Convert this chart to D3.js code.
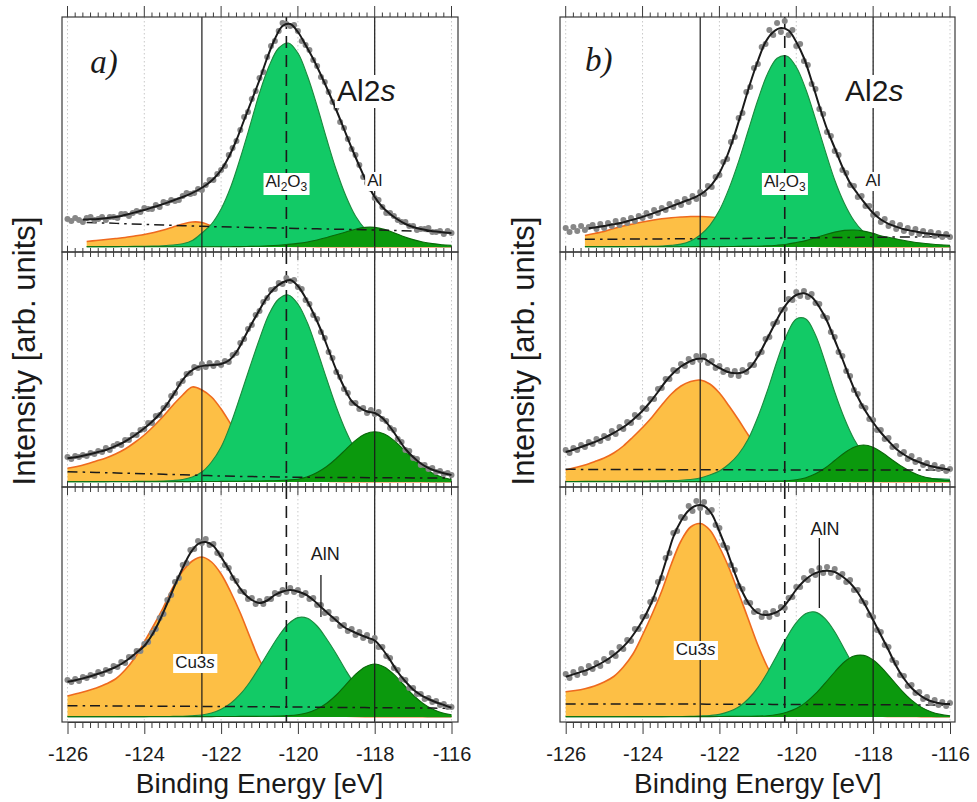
<!DOCTYPE html>
<html>
<head>
<meta charset="utf-8">
<title>Al2s XPS spectra</title>
<script src="https://cdn.jsdelivr.net/npm/d3@7/dist/d3.min.js"></script>
<style>
  html, body { margin: 0; padding: 0; background: #fff; }
  svg { display: block; font-family: "Liberation Sans", Arial, sans-serif; }
</style>
</head>
<body>
<svg id="chart" width="977" height="802"></svg>
<script>
// ---------------- data ----------------
// binding energy axis (eV)
const energyDomain = [-126, -116];
const energyTicks = [-126, -124, -122, -120, -118, -116];

// sampling of the stored series (eV)
const dotStart = -126, dotStep = 0.1;   // measured points
const fitStep = 0.2;                     // fit envelope
const compStep = 0.25;                   // fitted components
const bgStep = 0.5;                      // Shirley-type background

// first energy of fitted curves, rows top -> bottom
const fitStartA = [-125.6, -126, -126];
const fitStartB = [-125.4, -126, -126];
const compStartA = [-125.5, -126, -126];
const compStartB = [-125.5, -126, -126];

// reference energies (eV)
const refSolid = [-122.5, -118];
const refDashed = [-120.3];
const alnEnergy = -119.4;

// ---- column a) ----
const dotsA1 = [28,26,29,27,25,29,30,27,28,30,27,30,30,29,33,33,31,34,36,35,39,38,38,42,40,45,44,47,46,47,51,54,53,54,58,57,62,67,67,73,77,81,92,99,106,117,130,135,148,156,169,175,190,201,206,216,224,223,221,222,216,206,202,197,187,181,170,165,155,145,139,125,119,108,98,92,82,70,64,58,49,47,40,34,34,31,27,25,25,21,21,17,18,18,19,15,15,16,13,16,14];
const fitA1 = [27.4,27.7,28.1,28.7,29.7,31.1,33,35,37,39.4,41.8,44.4,47.2,50,53.2,57,61.8,68,77,90,107,127,147,167,189,208,221,223,215,202,188,172,155,137,118,99,81,64,50,40,33,27.5,23,20,18,16.6,15.4,14.5,14];
const cuA1 = [5.5,6.5,7.5,8.5,9.5,11,12.5,14.5,17,20,23,25,24.5,21,16,11,7,4.3,2.7,1.7,1.1,0.8,0.6,0.5,0.4,0.4,0.4,0.4,0.3,0.3,0.3,0.3,0.3,0.3,0.3,0.3,0.3,0.3,0.3];
const greenA1 = [0.3,0.3,0.4,0.4,0.5,0.6,0.7,0.9,1.3,2,3.2,6.4,14,23,38,60,89,121,154,181,199,204,194,171,141,108,77,51,31,18,9.6,4.8,2.4,1.3,0.8,0.6,0.5,0.4,0.4];
const alA1 = [0.2,0.2,0.2,0.2,0.2,0.2,0.2,0.2,0.2,0.2,0.2,0.2,0.2,0.2,0.2,0.3,0.4,0.6,0.8,1.2,1.8,2.6,3.6,5,7,9.5,12.2,15,17.8,19.6,19.6,17.6,14.3,10.6,7.4,5,3.4,2.3,1.6];
const bgA1 = [24.5,24,23.3,22.6,22,21.3,20.7,20.2,19.8,19.4,19,18.6,18.2,17.8,17.4,17,16.5,16,15.5,15];

const dotsA2 = [25,23,26,25,27,26,29,28,31,30,34,32,36,38,37,42,42,47,47,52,53,59,59,66,67,74,77,86,89,98,101,108,109,115,114,118,115,119,116,119,117,121,120,127,129,139,143,153,157,167,171,180,184,192,193,199,198,204,201,202,195,193,182,178,167,163,150,144,130,124,110,105,93,89,79,79,73,74,69,72,68,70,63,61,54,52,43,40,32,31,24,23,17,17,13,14,10,11,8,9,7];
const fitA2 = [23.7,24.7,26.2,28,30,32,35.2,38.5,42.8,48,53.7,60.3,68,78,90,102,110.5,115,116.5,117,118,121.5,130,144,158.5,172,185,194,199.5,202,196,184,169,152,132,112,95,81,74.5,70.5,69,64,55,44,33,25,18.5,14,11,8.8,7];
const cuA2 = [13.7,15.5,18,21,24,28,33,39.5,47,56,66,77,87,95,92,85,73,58,43,29,18,10.5,6,3.5,2,1.3,0.9,0.7,0.5,0.4,0.4,0.4,0.3,0.3,0.3,0.3,0.3,0.3,0.3,0.3,0.3];
const greenA2 = [0.3,0.3,0.3,0.4,0.4,0.5,0.5,0.6,0.7,0.8,1,1.5,2.5,5,10,20,35,58,86,115,143,168,183,187,178,159,132,103,75,51,32,19,10.5,5.4,2.6,1.3,0.7,0.5,0.4,0.4,0.3];
const alA2 = [0.2,0.2,0.2,0.2,0.2,0.2,0.2,0.2,0.3,0.3,0.3,0.3,0.4,0.4,0.5,0.5,0.6,0.7,0.8,0.9,1,1.2,1.5,2,2.8,5.2,9.5,15.5,23.5,32.7,41.6,48,50.3,48,41.6,32.7,23.5,15.3,9.1,4.9,2.4];
const bgA2 = [10.3,9.8,9.3,8.8,8.3,7.7,7.2,6.6,6,5.6,5.3,5,4.8,4.6,4.5,4.4,4.3,4.2,4.1,4,4];

const dotsA3 = [37,35,38,36,40,39,42,41,45,43,47,46,51,50,55,54,60,60,66,66,73,75,84,88,99,103,117,122,135,139,152,154,167,168,176,174,178,172,173,164,162,152,149,139,136,126,125,118,119,113,116,113,118,118,124,123,127,125,129,125,127,122,124,118,119,112,112,104,105,98,98,91,92,86,88,82,85,79,82,76,79,70,70,61,59,49,47,38,37,29,29,23,23,18,19,15,16,12,13,10,10];
const fitA3 = [35.3,36.8,38.6,40.7,43.2,45.9,49,53,58.3,64.5,71,82,96.5,114,132,149,164,173,175,171,160,147.5,134,123.5,117,114,116.5,122,125.5,127,125.5,122.5,117,110,103,96.5,90,86,82.5,79.5,76.5,68,57,45,35.5,27.5,22,18,14.8,12,9.3];
const cuA3 = [21,23.5,26,29,33,38,47,59,75,92,110,130,146,156,160,155,143,125,104,80,57,41,28,18,11,6.2,3.4,1.9,1.1,0.7,0.5,0.4,0.4,0.4,0.3,0.3,0.3,0.3,0.3,0.3,0.3];
const greenA3 = [0.3,0.3,0.3,0.3,0.3,0.3,0.4,0.4,0.4,0.5,0.5,0.6,0.7,1.2,2,4,7.8,13.8,22.8,35,50,66,81,93,99.4,98.7,91,78,63,46.5,32,21,12.4,7,3.6,1.8,0.9,0.5,0.3,0.3,0.3];
const alA3 = [0.2,0.2,0.2,0.2,0.2,0.2,0.2,0.2,0.3,0.3,0.3,0.3,0.3,0.4,0.4,0.4,0.5,0.5,0.6,0.6,0.7,0.8,1,1.4,2.3,4.2,8,13.8,22,32.5,42.6,50,53,50,42.6,32.5,22,13.8,8,4.2,2.2];
const bgA3 = [11.3,11.2,11.1,11,10.9,10.8,10.7,10.6,10.5,10.4,10.2,10.1,10,9.8,9.6,9.5,9.3,9.2,9,8.9,8.7];

// ---- column b) ----
const dotsB1 = [19,15,20,16,21,17,20,22,18,23,19,24,21,26,22,27,24,29,26,31,29,34,31,37,34,39,37,43,40,45,42,48,45,51,48,55,53,61,60,70,72,85,88,105,110,129,134,155,160,179,183,200,203,217,212,224,215,226,212,217,201,203,186,182,163,158,138,133,115,111,96,92,77,74,62,61,50,51,41,41,32,33,25,28,21,24,18,22,16,19,14,18,13,16,12,15,11,14,10,13,10];
const fitB1 = [18.8,19.8,21,22.4,23.7,25.7,27.9,30.1,32.6,35.4,38.4,41.4,44.3,47.2,50.4,55,62.3,74,91,113,138,163.5,186,205,215,219,216.5,205,189,166,141,118,99,80,64,53,43,34,27.5,23.2,20.3,17.8,16.2,14.7,13.5,12.6,11.8,11.1];
const cuB1 = [11.5,13.5,15.5,18.5,21,23,25,26.8,28.2,29.3,30,30.5,30.5,30,28.7,26,22,17,12,8,5,3,2,1.3,0.9,0.6,0.5,0.4,0.4,0.4,0.3,0.3,0.3,0.3,0.3,0.3,0.3,0.3,0.3];
const greenB1 = [0.3,0.3,0.3,0.4,0.4,0.5,0.6,0.7,1,1.6,2.9,6,12,21.7,36.7,58.6,85.6,116.5,147,173,188.7,191,180,157.5,128,96.6,67,43.8,26.5,15,7.8,3.8,1.7,0.9,0.6,0.5,0.4,0.3,0.3];
const alB1 = [0.2,0.2,0.2,0.2,0.2,0.2,0.2,0.2,0.3,0.3,0.3,0.3,0.4,0.4,0.4,0.5,0.6,0.7,0.8,1.1,1.8,2.8,4.5,6.4,9.3,12.3,14.9,16.6,17,15.9,13.6,10.8,9,7,5.3,4,3,2.2,1.6];
const bgB1 = [7.7,7.8,7.9,8,8.1,8.2,8.3,8.4,8.6,8.7,8.9,9,9.2,9.4,9.6,9.7,9.9,10,10.2,10.3];

const dotsB2 = [32,29,34,32,37,35,40,38,43,41,46,44,51,48,55,53,60,59,67,65,74,73,83,83,93,94,103,103,112,111,118,116,123,120,126,122,126,119,121,114,116,110,112,107,111,106,112,110,117,117,128,130,143,145,158,160,172,173,183,182,190,186,191,185,188,179,178,166,164,150,145,130,126,111,106,92,88,76,74,63,62,52,52,43,44,35,36,28,30,23,26,20,22,17,19,14,17,13,15,11,13];
const fitB2 = [30,32.3,35,37.8,40.7,44.2,48,52.5,57.5,64,71.3,80,90,100.5,109,115.5,120,123,123.2,118.5,114,110.3,108.8,109.5,114.5,125.5,140,155,169.5,180.5,187,188.7,185,175,161,142,123,103,85,71,59.5,49.5,41,33,27.5,23,19.8,17,15,13.4,12];
const cuB2 = [12,14.5,17,20.3,24,29,36,45,54.5,65,77,88,96,100.5,102,98,89,76,62,47,34,23,15,9.5,5.8,3.5,2.2,1.4,1,0.8,0.6,0.5,0.5,0.4,0.4,0.4,0.3,0.3,0.3,0.3,0.3];
const greenB2 = [0.5,0.5,0.6,0.6,0.7,0.7,0.8,0.9,1,1.1,1.3,1.5,1.8,2.5,4,7,11,18,28,43,65,91.5,121,147,163,163,147,120,90,64,43,28,18,12,8.4,6.2,5,4.2,3.6,3.1,2.7];
const alB2 = [0.2,0.2,0.2,0.2,0.2,0.2,0.2,0.2,0.3,0.3,0.3,0.3,0.3,0.4,0.4,0.4,0.5,0.5,0.5,0.6,0.6,0.7,0.9,1.3,2.3,4.3,8.2,14,21.5,29,34.8,37,34.8,29,22,15.5,10,6,3.6,2.2,1.4];
const bgB2 = [12.7,12.6,12.6,12.5,12.5,12.4,12.3,12.3,12.2,12.2,12.1,12.1,12,12,12,12,12,12,12,12,12];

const dotsB3 = [43,39,45,42,48,44,51,48,54,51,58,56,64,61,70,68,77,76,88,88,100,101,115,118,135,139,159,164,184,186,200,199,211,206,216,209,215,205,207,192,189,172,169,152,147,131,128,115,114,105,106,100,104,100,106,103,110,109,119,120,130,130,139,137,146,142,149,144,150,144,148,140,143,135,137,127,127,116,114,102,100,87,85,72,70,57,54,42,41,31,32,24,25,18,20,14,17,12,15,11,14];
const fitB3 = [40.3,42.6,45.1,47.8,51.3,55.5,60.5,66.8,74.3,84.5,96.5,111.5,131,155,180,196,206.5,211.5,211,203,185.5,166,144,125,111.5,104,102,103.5,107.5,116.5,127.5,136,142,145.3,146.3,145,140.5,134,124.5,111.5,97,82,67,51,38.5,29,22.3,17.5,14.7,13.3,13];
const cuB3 = [25.3,26.5,28.3,31,35,40.5,50,63,82,103,126,153,176,190,193.5,187,170,149,124,98,72,50,33,21,13,8,5,3.2,2.2,1.6,1.2,1,0.8,0.7,0.6,0.5,0.5,0.4,0.4,0.3,0.3];
const greenB3 = [0.3,0.3,0.3,0.3,0.3,0.3,0.3,0.4,0.4,0.4,0.4,0.5,0.5,0.6,1,1.5,2.6,5.4,10,18,29.4,44.5,62,79.4,94.3,103.4,104.9,98.3,85.2,68,50.5,34.5,21.7,12.6,6.8,3.4,1.6,0.8,0.5,0.3,0.3];
const alB3 = [0.2,0.2,0.2,0.2,0.2,0.2,0.2,0.2,0.3,0.3,0.3,0.3,0.3,0.4,0.4,0.4,0.5,0.6,0.7,0.8,0.9,1.3,2.5,4.7,8.4,14.6,23.3,33.9,45,55,60.9,61.6,57,48.2,37.2,26.2,16.9,9.9,5.3,2.6,1.2];
const bgB3 = [13,13,13,13,12.9,12.9,12.9,12.9,12.8,12.8,12.7,12.6,12.5,12.5,12.4,12.3,12.2,12.2,12.1,12.1,12];

// ---------------- layout ----------------
const panelTops = [17, 252, 487];
const panelHeight = 235;
const bottomY = panelTops[2] + panelHeight;

const COLORS = {
  cuFill: '#fdbf45', cuLine: '#ee6a1e',
  oxFill: '#12ca66', oxLine: '#1b8a3e',
  alFill: '#0b990d', alLine: '#0a680a',
  dots: '#878787', fit: '#1a1a1a', ink: '#1a1a1a', frame: '#3a3a3a', grid: '#c9c9c9'
};

const columns = [
  {
    letter: 'a)', range: [67.5, 451.5], frame: [62, 458], yLabelX: 35,
    al2sE: -118.98, cuE: -122.68, cuV: 49, alnLabelE: -119.29, alnLabelV: 157, alnTop: 142, alnBottom: 100,
    rows: [0, 1, 2].map(i => ({
      dots: [dotsA1, dotsA2, dotsA3][i], fit: [fitA1, fitA2, fitA3][i],
      cu: [cuA1, cuA2, cuA3][i], green: [greenA1, greenA2, greenA3][i], al: [alA1, alA2, alA3][i],
      bg: [bgA1, bgA2, bgA3][i], fitStart: fitStartA[i], compStart: compStartA[i]
    }))
  },
  {
    letter: 'b)', range: [565.7, 950], frame: [560, 955], yLabelX: 534,
    al2sE: -118.73, cuE: -122.62, cuV: 62, alnLabelE: -119.25, alnLabelV: 182, alnTop: 179, alnBottom: 109,
    rows: [0, 1, 2].map(i => ({
      dots: [dotsB1, dotsB2, dotsB3][i], fit: [fitB1, fitB2, fitB3][i],
      cu: [cuB1, cuB2, cuB3][i], green: [greenB1, greenB2, greenB3][i], al: [alB1, alB2, alB3][i],
      bg: [bgB1, bgB2, bgB3][i], fitStart: fitStartB[i], compStart: compStartB[i]
    }))
  }
];

const seq = (start, step, vals) => vals.map((v, i) => ({ e: start + i * step, v }));
const minorTicks = d3.range(51).map(i => ({ e: -126 + i * 0.2, major: i % 10 === 0 }));
const curve = d3.curveCatmullRom.alpha(0.5);
const svg = d3.select('#chart');

// text with a white box behind it
function boxedText(g, xPos, yBase, size, build, anchor = 'middle') {
  const t = g.append('text').attr('x', xPos).attr('y', yBase)
    .attr('text-anchor', anchor).attr('font-size', size).attr('fill', COLORS.ink);
  build(t);
  const b = t.node().getBBox();
  g.insert('rect', () => t.node())
    .attr('x', b.x - 2).attr('y', b.y + 1).attr('width', b.width + 4).attr('height', b.height)
    .attr('fill', '#fff');
  return t;
}

columns.forEach((col, ci) => {
  const x = d3.scaleLinear().domain(energyDomain).range(col.range);
  const cg = svg.append('g');

  col.rows.forEach((p, ri) => {
    const top = panelTops[ri];
    const bottom = top + panelHeight;
    const y = d3.scaleLinear().domain([-5, 230]).range([bottom, top]);
    const g = cg.append('g');
    const clipId = `clip-${ci}-${ri}`;
    g.append('clipPath').attr('id', clipId).append('rect')
      .attr('x', col.frame[0]).attr('y', top)
      .attr('width', col.frame[1] - col.frame[0]).attr('height', panelHeight);
    const body = g.append('g').attr('clip-path', `url(#${clipId})`);

    // dotted vertical grid
    body.selectAll('line.grid').data(energyTicks).join('line')
      .attr('class', 'grid')
      .attr('x1', d => x(d)).attr('x2', d => x(d)).attr('y1', top).attr('y2', bottom)
      .attr('stroke', COLORS.grid).attr('stroke-width', 1).attr('stroke-dasharray', '1.5,2.5');

    const area = d3.area().x(d => x(d.e)).y0(y(0)).y1(d => y(d.v)).curve(curve);
    const line = d3.line().x(d => x(d.e)).y(d => y(d.v)).curve(curve);

    const comps = [
      { vals: p.cu, fill: COLORS.cuFill, stroke: COLORS.cuLine, sw: 1.6 },
      { vals: p.green, fill: COLORS.oxFill, stroke: COLORS.oxLine, sw: 1.1 },
      { vals: p.al, fill: COLORS.alFill, stroke: COLORS.alLine, sw: 1.1 }
    ];
    comps.forEach(c => {
      const data = seq(p.compStart, compStep, c.vals);
      body.append('path').datum(data).attr('d', area).attr('fill', c.fill);
      body.append('path').datum(data).attr('d', line)
        .attr('fill', 'none').attr('stroke', c.stroke).attr('stroke-width', c.sw);
    });

    // background
    body.append('path').datum(seq(p.compStart, bgStep, p.bg))
      .attr('d', d3.line().x(d => x(d.e)).y(d => y(d.v)).curve(curve))
      .attr('fill', 'none').attr('stroke', COLORS.ink).attr('stroke-width', 1.5)
      .attr('stroke-dasharray', '10,5,2.5,5');

    // reference energies
    body.selectAll('line.ref').data(refSolid).join('line')
      .attr('class', 'ref')
      .attr('x1', d => x(d)).attr('x2', d => x(d)).attr('y1', top).attr('y2', bottom)
      .attr('stroke', COLORS.ink).attr('stroke-width', 1.2);
    body.selectAll('line.refd').data(refDashed).join('line')
      .attr('class', 'refd')
      .attr('x1', d => x(d)).attr('x2', d => x(d)).attr('y1', top).attr('y2', bottom)
      .attr('stroke', COLORS.ink).attr('stroke-width', 1.6).attr('stroke-dasharray', '12,7');

    // measured points
    body.selectAll('circle').data(seq(dotStart, dotStep, p.dots)).join('circle')
      .attr('cx', d => x(d.e)).attr('cy', d => y(d.v)).attr('r', 3)
      .attr('fill', COLORS.dots);

    // fit envelope
    body.append('path').datum(seq(p.fitStart, fitStep, p.fit)).attr('d', line)
      .attr('fill', 'none').attr('stroke', COLORS.fit).attr('stroke-width', 2);

    // labels
    if (ri === 0) {
      boxedText(body, x(-120.3), y(60), 17, t => {
        t.append('tspan').text('Al');
        t.append('tspan').attr('font-size', 12).attr('dy', 4).text('2');
        t.append('tspan').attr('dy', -4).text('O');
        t.append('tspan').attr('font-size', 12).attr('dy', 4).text('3');
      });
      boxedText(body, x(-118), y(61), 17, t => t.text('Al'));
      boxedText(body, x(col.al2sE), y(146), 30, t => {
        t.append('tspan').text('Al2');
        t.append('tspan').attr('font-style', 'italic').text('s');
      }, 'start');
      body.append('text').attr('x', x(ci === 0 ? -125.41 : -125.5)).attr('y', y(ci === 0 ? 174 : 176))
        .attr('font-family', '"Liberation Serif", "Times New Roman", serif')
        .attr('font-style', 'italic').attr('font-size', 33).attr('fill', COLORS.ink)
        .text(col.letter);
    }
    if (ri === 2) {
      body.append('line')
        .attr('x1', x(alnEnergy)).attr('x2', x(alnEnergy))
        .attr('y1', y(col.alnTop)).attr('y2', y(col.alnBottom))
        .attr('stroke', COLORS.ink).attr('stroke-width', 1.3);
      body.append('text').attr('x', x(col.alnLabelE)).attr('y', y(col.alnLabelV))
        .attr('text-anchor', 'middle').attr('font-size', 18).attr('fill', COLORS.ink).text('AlN');
      boxedText(body, x(col.cuE), y(col.cuV), 17, t => {
        t.append('tspan').text('Cu3');
        t.append('tspan').attr('font-style', 'italic').text('s');
      });
    }

    // frame
    g.append('rect')
      .attr('x', col.frame[0]).attr('y', top)
      .attr('width', col.frame[1] - col.frame[0]).attr('height', panelHeight)
      .attr('fill', 'none').attr('stroke', COLORS.frame).attr('stroke-width', 1.2);

    // ticks on the upper edge of each panel
    const tickUp = ri === 0 ? d => (d.major ? 11 : 4.5) : d => (d.major ? 6 : 4);
    const tickDown = ri === 0 ? () => 0 : d => (d.major ? 8 : 5);
    g.selectAll('line.tick').data(minorTicks).join('line')
      .attr('class', 'tick')
      .attr('x1', d => x(d.e)).attr('x2', d => x(d.e))
      .attr('y1', d => top - tickUp(d)).attr('y2', d => top + tickDown(d))
      .attr('stroke', COLORS.frame).attr('stroke-width', 1);
  });

  // bottom axis
  const axis = d3.axisBottom(x).tickValues(energyTicks).tickSize(12).tickSizeOuter(0)
    .tickPadding(13).tickFormat(d => String(d));
  const ag = cg.append('g').attr('transform', `translate(0,${bottomY})`).call(axis);
  ag.attr('font-family', null).attr('font-size', null);
  ag.select('.domain').attr('stroke', COLORS.frame);
  ag.selectAll('.tick line').attr('stroke', COLORS.frame);
  ag.selectAll('.tick text').attr('font-size', 20).attr('fill', COLORS.ink);
  cg.append('g').selectAll('line').data(minorTicks.filter(d => !d.major)).join('line')
    .attr('x1', d => x(d.e)).attr('x2', d => x(d.e))
    .attr('y1', bottomY).attr('y2', bottomY + 6)
    .attr('stroke', COLORS.frame).attr('stroke-width', 1);

  // axis titles
  cg.append('text')
    .attr('x', (col.range[0] + col.range[1]) / 2).attr('y', 793)
    .attr('text-anchor', 'middle').attr('font-size', 28).attr('fill', COLORS.ink)
    .text('Binding Energy [eV]');
  cg.append('text')
    .attr('transform', `translate(${col.yLabelX},351) rotate(-90)`)
    .attr('text-anchor', 'middle').attr('font-size', 31).attr('fill', COLORS.ink)
    .text('Intensity [arb. units]');
});
</script>
</body>
</html>
